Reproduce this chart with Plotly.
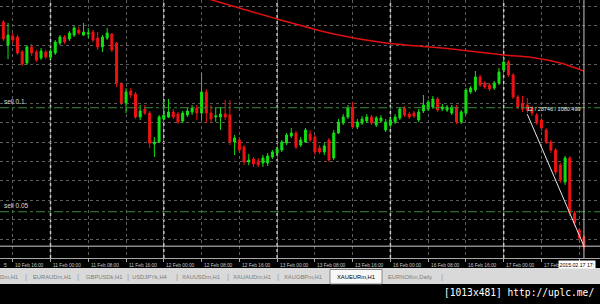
import plotly.graph_objects as go

# ---------------- data (XAUEURm, H1) ----------------
# bar 0 = 10 Feb 2015 14:00 ... bar 123 = 17 Feb 2015 17:00 (weekend skipped)
opens = [1120.84, 1116.70, 1118.32, 1118.14, 1115.44, 1113.46, 1116.34, 1115.44, 1114.36, 1115.44,
         1114.54, 1115.26, 1117.06, 1118.14, 1117.78, 1118.50, 1119.40, 1118.50, 1118.68, 1119.04,
         1117.96, 1116.34, 1117.96, 1118.68, 1117.06, 1109.68, 1106.26, 1108.42, 1107.88, 1103.74,
         1105.18, 1104.46, 1098.88, 1099.24, 1103.38, 1103.74, 1104.64, 1104.28, 1103.02, 1104.10,
         1104.64, 1105.36, 1104.46, 1108.24, 1104.46, 1103.74, 1103.74, 1104.28, 1104.10, 1099.24,
         1099.60, 1098.34, 1095.64, 1096.18, 1095.82, 1095.46, 1095.46, 1096.54, 1097.26, 1097.80,
         1099.06, 1100.32, 1100.86, 1098.70, 1099.24, 1100.68, 1100.14, 1098.16, 1097.44, 1099.60,
         1096.36, 1100.86, 1102.66, 1103.74, 1105.54, 1101.94, 1102.66, 1103.02, 1103.74, 1102.30,
         1103.02, 1101.40, 1102.30, 1102.84, 1103.56, 1105.36, 1104.28, 1104.46, 1103.20, 1104.82,
         1105.18, 1105.54, 1106.98, 1105.18, 1105.00, 1104.46, 1105.54, 1102.84, 1104.46, 1108.24,
         1108.60, 1110.94, 1109.86, 1109.50, 1108.96, 1109.86, 1112.20, 1113.64, 1111.30, 1107.34,
         1106.26, 1105.90, 1105.36, 1104.10, 1103.20, 1101.40, 1099.24, 1097.80, 1095.10, 1092.04,
         1096.36, 1086.46, 1083.40, 1082.14]
highs = [1121.20, 1120.66, 1118.86, 1118.50, 1115.80, 1116.70, 1116.88, 1115.80, 1116.16, 1115.80,
         1115.98, 1117.60, 1118.50, 1118.50, 1119.22, 1120.12, 1119.94, 1120.66, 1119.76, 1119.40,
         1119.04, 1118.50, 1119.76, 1118.86, 1117.24, 1110.04, 1108.96, 1108.96, 1108.24, 1105.90,
         1105.90, 1104.82, 1100.14, 1104.10, 1106.80, 1106.98, 1105.18, 1104.64, 1104.82, 1105.36,
         1105.90, 1105.90, 1111.66, 1108.78, 1105.90, 1105.54, 1105.54, 1106.80, 1106.80, 1100.50,
         1100.14, 1098.70, 1097.08, 1096.54, 1096.36, 1096.90, 1097.26, 1097.80, 1098.34, 1099.60,
         1100.86, 1101.76, 1101.22, 1100.14, 1101.76, 1101.40, 1100.50, 1098.70, 1099.06, 1099.96,
         1101.40, 1103.38, 1104.28, 1105.90, 1106.44, 1103.38, 1103.92, 1104.28, 1104.10, 1103.92,
         1104.10, 1103.38, 1103.56, 1104.28, 1105.54, 1105.72, 1104.64, 1104.82, 1105.18, 1107.70,
         1106.80, 1107.52, 1107.34, 1106.08, 1105.90, 1105.90, 1105.90, 1105.00, 1108.96, 1109.32,
         1112.02, 1111.30, 1110.22, 1109.86, 1110.22, 1112.56, 1114.36, 1114.00, 1111.66, 1107.70,
         1107.52, 1107.16, 1105.72, 1104.46, 1103.56, 1101.76, 1099.60, 1098.16, 1095.46, 1096.72,
         1096.72, 1086.82, 1083.76, 1082.50]
lows = [1117.42, 1114.18, 1117.06, 1114.90, 1112.92, 1113.10, 1114.72, 1113.64, 1114.00, 1114.18,
        1114.18, 1114.90, 1116.70, 1116.88, 1117.42, 1118.14, 1118.50, 1118.32, 1117.96, 1117.24,
        1115.80, 1115.44, 1117.60, 1115.44, 1109.14, 1105.90, 1104.46, 1107.16, 1103.38, 1103.20,
        1104.10, 1098.16, 1096.54, 1099.06, 1103.20, 1103.56, 1103.38, 1102.48, 1102.66, 1103.74,
        1104.10, 1103.20, 1103.20, 1102.66, 1102.66, 1102.84, 1101.40, 1103.20, 1098.70, 1096.90,
        1097.44, 1095.10, 1095.10, 1094.74, 1094.74, 1094.74, 1094.92, 1096.18, 1096.72, 1097.44,
        1098.70, 1099.96, 1097.98, 1098.34, 1099.06, 1099.24, 1096.90, 1097.08, 1096.90, 1095.64,
        1096.00, 1100.68, 1102.30, 1103.38, 1101.76, 1101.58, 1102.30, 1102.66, 1102.30, 1101.94,
        1102.66, 1101.04, 1101.94, 1102.48, 1103.20, 1103.74, 1103.38, 1103.56, 1102.84, 1104.46,
        1104.82, 1105.18, 1104.64, 1104.82, 1104.64, 1104.10, 1102.48, 1102.48, 1104.10, 1107.88,
        1108.24, 1109.14, 1108.78, 1108.42, 1108.60, 1109.50, 1111.84, 1110.94, 1106.98, 1105.18,
        1104.64, 1104.46, 1103.92, 1102.30, 1101.22, 1098.88, 1097.26, 1093.30, 1091.86, 1091.50,
        1085.92, 1084.12, 1081.42, 1079.80]
closes = [1117.78, 1118.50, 1117.60, 1115.26, 1113.28, 1116.34, 1115.26, 1114.00, 1115.62, 1114.54,
          1115.62, 1117.24, 1118.14, 1117.24, 1118.86, 1119.76, 1118.86, 1119.04, 1118.86, 1117.60,
          1116.34, 1118.14, 1118.86, 1115.80, 1109.86, 1106.26, 1108.24, 1107.70, 1103.74, 1104.82,
          1104.46, 1099.06, 1099.24, 1103.74, 1104.10, 1104.64, 1103.74, 1102.84, 1104.46, 1104.82,
          1105.36, 1104.46, 1108.24, 1104.46, 1103.38, 1103.92, 1104.28, 1103.74, 1099.24, 1099.96,
          1097.80, 1095.64, 1096.00, 1095.28, 1095.10, 1096.36, 1096.72, 1097.44, 1097.98, 1099.24,
          1100.50, 1100.86, 1098.34, 1099.60, 1101.40, 1099.60, 1097.44, 1097.44, 1098.52, 1096.00,
          1100.86, 1102.84, 1103.74, 1105.36, 1101.94, 1102.84, 1103.38, 1103.74, 1102.66, 1103.56,
          1103.56, 1102.84, 1103.20, 1103.74, 1105.18, 1104.10, 1103.74, 1103.92, 1104.64, 1105.90,
          1106.44, 1106.98, 1105.00, 1105.54, 1105.54, 1105.54, 1102.84, 1104.64, 1108.60, 1108.96,
          1110.94, 1109.50, 1109.14, 1108.78, 1109.86, 1111.84, 1113.64, 1111.30, 1107.34, 1105.54,
          1105.18, 1105.00, 1104.46, 1102.66, 1101.76, 1099.24, 1097.80, 1093.84, 1092.40, 1096.36,
          1086.46, 1084.66, 1081.96, 1080.34]
bars = list(range(len(opens)))

# moving average (red line), read at some bars
ma_bars = [43, 50, 58, 70, 81, 88, 95, 106, 112, 118, 123]
ma_vals = [1125.10, 1123.36, 1121.38, 1118.68, 1117.06, 1116.52, 1115.98, 1114.90, 1114.45, 1113.46, 1112.00]

# time axis labels (every 8 bars); the last ones are hidden behind the crosshair time box
tick_bars = [2, 10, 18, 26, 34, 42, 50, 58, 66, 74, 82, 90, 98, 106, 114, 122]
tick_labels = ["10 Feb 16:00", "11 Feb 00:00", "11 Feb 08:00", "11 Feb 16:00", "12 Feb 00:00",
               "12 Feb 08:00", "12 Feb 16:00", "13 Feb 00:00", "13 Feb 08:00", "13 Feb 16:00",
               "16 Feb 00:00", "16 Feb 08:00", "16 Feb 16:00", "17 Feb 00:00", "17 Feb", ""]
first_label_tail = "5"   # end of the cut-off "10 Feb 2015" label
day_start_bars = [10, 34, 58, 82, 106]

# pending order lines
order_levels = [1105.41, 1086.69]
order_labels = ["sell 0.1", "sell 0.05"]

# crosshair measurement
cross_bars = [111, 123]
cross_prices = [1104.236, 1080.49]
cross_text = "12 / 23746 / 1080.490"
cross_time = "2015.02.17 17:"

tabs = ["Dm,H1", "EURAUDm,H1", "GBPUSDk,H1", "USDJPYk,H4", "XAUUSDm,H1",
        "XAUAUDm,H1", "XAUGBPm,H1", "XAUEURm,H1", "EURNOKm,Daily"]
tab_centers_px = [9, 52, 104, 150, 201, 252, 303, 356, 410]
tab_sep_px = [26, 78, 128, 177, 228, 278, 442]
active_tab = "XAUEURm,H1"

# ---------------- figure ----------------
W, H = 600, 304
PLOT_BOTTOM = 258
UP, DN = "#12e012", "#f01212"
FONT = "Liberation Sans"

def py(p):
    return 1 - p / H

fig = go.Figure()
fig.add_trace(go.Candlestick(
    x=bars, open=opens, high=highs, low=lows, close=closes,
    increasing=dict(line=dict(color=UP, width=1), fillcolor=UP),
    decreasing=dict(line=dict(color=DN, width=1), fillcolor=DN),
    whiskerwidth=0, showlegend=False, hoverinfo="skip"))
fig.add_trace(go.Scatter(x=ma_bars, y=ma_vals, mode="lines",
                         line=dict(color="#e01010", width=1.5, shape="spline"),
                         showlegend=False, hoverinfo="skip"))
fig.add_trace(go.Scatter(x=cross_bars, y=cross_prices, mode="lines",
                         line=dict(color="#e8e8e8", width=1),
                         showlegend=False, hoverinfo="skip"))

shapes = []
for d in day_start_bars:
    shapes.append(dict(type="line", xref="x", yref="y domain", x0=d, x1=d, y0=0, y1=1,
                       line=dict(color="#c8c8c8", width=1.5, dash="dot"), layer="below"))
for lv in order_levels:
    shapes.append(dict(type="line", xref="x domain", yref="y", x0=0, x1=1, y0=lv, y1=lv,
                       line=dict(color="#3c8a3c", width=1, dash="dashdot")))
# crosshair
shapes.append(dict(type="line", xref="x", yref="y domain", x0=cross_bars[1], x1=cross_bars[1],
                   y0=0, y1=1, line=dict(color="#c8c8c8", width=1)))
shapes.append(dict(type="line", xref="x domain", yref="y", x0=0, x1=1,
                   y0=cross_prices[1], y1=cross_prices[1], line=dict(color="#d0d0d0", width=1)))
# tab bar
shapes.append(dict(type="rect", xref="paper", yref="paper", x0=0, x1=1, y0=py(284), y1=py(268),
                   fillcolor="#d9d9d9", line=dict(width=0)))
ai = tabs.index(active_tab)
shapes.append(dict(type="rect", xref="paper", yref="paper",
                   x0=(tab_centers_px[ai] - 26) / W, x1=(tab_centers_px[ai] + 26) / W,
                   y0=py(284), y1=py(269.5), fillcolor="#f7f7f7",
                   line=dict(color="#707070", width=0.8)))

ann = []
for b, t in zip(tick_bars, tick_labels):
    if t:
        ann.append(dict(x=b, xref="x", y=py(265.5), yref="paper", text=t, showarrow=False,
                        xanchor="left", yanchor="middle", xshift=0.5,
                        font=dict(family=FONT, size=4.8, color="#c8c8c8")))
ann.append(dict(x=2 / W, xref="paper", y=py(265.5), yref="paper", text=first_label_tail,
                showarrow=False, xanchor="left", yanchor="middle",
                font=dict(family=FONT, size=4.8, color="#c8c8c8")))
for lv, t in zip(order_levels, order_labels):
    ann.append(dict(x=2 / W, xref="paper", y=lv, yref="y", text=t, showarrow=False,
                    xanchor="left", yanchor="bottom", yshift=1,
                    font=dict(family=FONT, size=6.5, color="#d8d8d8")))
ann.append(dict(x=cross_bars[0], xref="x", y=cross_prices[0], yref="y", text=cross_text,
                showarrow=False, xanchor="left", yanchor="bottom", xshift=-2, yshift=0,
                font=dict(family=FONT, size=5.5, color="#e8e8e8")))
ann.append(dict(x=558 / W, xref="paper", y=py(264.5), yref="paper", text=cross_time,
                showarrow=False, xanchor="left", yanchor="middle", bgcolor="#ffffff",
                borderpad=0.5, font=dict(family=FONT, size=5.2, color="#000000")))
for t, c in zip(tabs, tab_centers_px):
    ann.append(dict(x=c / W, xref="paper", y=py(276.5), yref="paper", text=t, showarrow=False,
                    xanchor="center", yanchor="middle",
                    font=dict(family=FONT, size=5.8,
                              color="#000000" if t == active_tab else "#7c7c7c")))
for s in tab_sep_px:
    ann.append(dict(x=s / W, xref="paper", y=py(276.5), yref="paper", text="|", showarrow=False,
                    xanchor="center", yanchor="middle",
                    font=dict(family=FONT, size=8, color="#9a9a9a")))
ann.append(dict(x=596 / W, xref="paper", y=py(292.5), yref="paper",
                text="[1013x481] http://uplc.me/", showarrow=False,
                xanchor="right", yanchor="middle",
                font=dict(family="DejaVu Sans Mono", size=9.6, color="#ffffff")))

fig.update_layout(
    width=W, height=H, margin=dict(l=0, r=0, t=0, b=0),
    paper_bgcolor="#000000", plot_bgcolor="#000000",
    boxgap=0.4, showlegend=False, shapes=shapes, annotations=ann,
    xaxis=dict(range=[-0.7, 126.4], tickvals=tick_bars, showticklabels=False,
               showgrid=True, gridcolor="#5e5e5e", griddash="dot", gridwidth=1,
               zeroline=False, showline=True, linecolor="#a8a8a8", linewidth=1,
               ticks="outside", ticklen=3, tickcolor="#a8a8a8",
               rangeslider=dict(visible=False), fixedrange=True),
    yaxis=dict(domain=[1 - PLOT_BOTTOM / H, 1], range=[1078.36, 1124.8],
               tick0=1081.78, dtick=3.492, showticklabels=False,
               showgrid=True, gridcolor="#5e5e5e", griddash="dot", gridwidth=1,
               zeroline=False, fixedrange=True),
)

fig.write_html("out.html")
